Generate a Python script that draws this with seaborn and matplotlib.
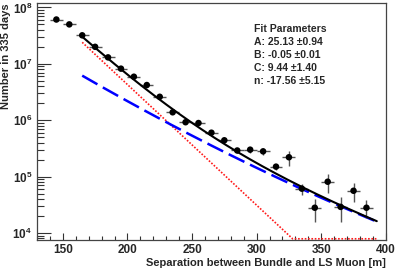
import numpy as np
import pandas as pd
import seaborn as sns
import matplotlib
matplotlib.use("Agg")
import matplotlib.pyplot as plt
from matplotlib.ticker import LogLocator, MultipleLocator, NullFormatter

# ------------------------------------------------------------
# Data (bin centres, counts, errors)
# ------------------------------------------------------------
sep = [145, 155, 165, 175, 185, 195, 205, 215, 225, 235, 245, 255, 265,
       275, 285, 295, 305, 315, 325, 335, 345, 355, 365, 375, 385]
counts = [6.1e7, 5.0e7, 3.2e7, 2.0e7, 1.3e7, 8.2e6, 5.9e6, 4.2e6, 2.6e6,
          1.38e6, 9.2e5, 8.9e5, 6.0e5, 4.4e5, 2.9e5, 3.0e5, 2.8e5, 1.5e5,
          2.2e5, 6.1e4, 2.8e4, 8.1e4, 2.9e4, 5.6e4, 2.8e4]
rel_err = [0.02, 0.02, 0.02, 0.03, 0.03, 0.03, 0.04, 0.04, 0.05, 0.05,
           0.05, 0.06, 0.08, 0.10, 0.10, 0.12, 0.14, 0.12, 0.30, 0.22,
           0.45, 0.38, 0.47, 0.38, 0.35]
bin_half = 5

# fit results shown in the box
fit_lines = ["Fit Parameters",
             "A: 25.13 \u00b10.94",
             "B: -0.05 \u00b10.01",
             "C: 9.44 \u00b11.40",
             "n: -17.56 \u00b15.15"]

# fit components (exponential part and slower tail part)
exp_a, exp_b = 25.13, -0.0493
tail_log0, tail_b, tail_c = 6.79, -0.013211, 8.13e-6
fit_lo, fit_hi = 165, 393

xlim = (130, 400)
ylim = (7.5e3, 1.2e8)

df = pd.DataFrame({"sep": sep, "counts": counts})
df["err"] = df["counts"] * np.array(rel_err)

xf = np.linspace(fit_lo, fit_hi, 400)
red = np.exp(exp_a + exp_b * xf)
blue = 10 ** (tail_log0 + tail_b * (xf - fit_lo) + tail_c * (xf - fit_lo) ** 2)
black = red + blue
# the exponential part runs along the bottom edge once it drops out of range
red_clip = np.maximum(red, ylim[0] * 1.05)

# ------------------------------------------------------------
# Style
# ------------------------------------------------------------
sns.set_style("ticks")
plt.rcParams["font.family"] = ["Liberation Sans", "DejaVu Sans"]
plt.rcParams["font.weight"] = "bold"
plt.rcParams["mathtext.fontset"] = "custom"
plt.rcParams["mathtext.bf"] = "Liberation Sans:bold"
plt.rcParams["mathtext.rm"] = "Liberation Sans:bold"
plt.rcParams["mathtext.default"] = "bf"

fig = plt.figure(figsize=(3.99, 2.68), dpi=100)
ax = fig.add_axes([0.0927, 0.1045, 0.8743, 0.8845])

ax.errorbar(df["sep"], df["counts"], xerr=bin_half, yerr=df["err"],
            fmt="none", ecolor="#555555", elinewidth=1.0, capsize=0, zorder=3)
sns.scatterplot(x="sep", y="counts", data=df, ax=ax, color="black",
                s=22, edgecolor="none", zorder=4)

ax.plot(xf, red_clip, color="#ff1a1a", lw=1.2, ls=(0, (1, 1)), zorder=2)
ax.plot(xf, blue, color="#0000ff", lw=1.8, ls=(0, (7, 2.5)), zorder=2)
ax.plot(xf, black, color="black", lw=1.5, zorder=3)

ax.set_yscale("log")
ax.set_xlim(*xlim)
ax.set_ylim(*ylim)

ax.xaxis.set_major_locator(MultipleLocator(50))
ax.xaxis.set_minor_locator(MultipleLocator(10))
ax.yaxis.set_major_locator(LogLocator(base=10, numticks=10))
ax.yaxis.set_minor_locator(LogLocator(base=10, subs=np.arange(2, 10), numticks=10))
ax.yaxis.set_minor_formatter(NullFormatter())

ax.tick_params(which="both", direction="in", top=False, right=False,
               labelsize=8.5, width=0.8, color="#333333")
ax.tick_params(axis="y", which="major", length=10)
ax.tick_params(axis="y", which="minor", length=5)
ax.tick_params(axis="x", which="major", length=5, pad=3)
ax.tick_params(axis="x", which="minor", length=3)
for lab in ax.get_xticklabels() + ax.get_yticklabels():
    lab.set_fontweight("bold")

for s in ax.spines.values():
    s.set_linewidth(0.9)
    s.set_color("#444444")
    s.set_visible(True)

ax.set_xlabel("Separation between Bundle and LS Muon [m]", fontsize=8,
              fontweight="bold", loc="right", labelpad=1)
ax.set_ylabel("Number in 335 days", fontsize=8, fontweight="bold",
              loc="top", labelpad=1)

for i, line in enumerate(fit_lines):
    ax.text(0.622, 0.89 - i * 0.0549, line, transform=ax.transAxes,
            fontsize=7.5, fontweight="bold", va="center", ha="left")

fig.savefig("out.png", dpi=100)
